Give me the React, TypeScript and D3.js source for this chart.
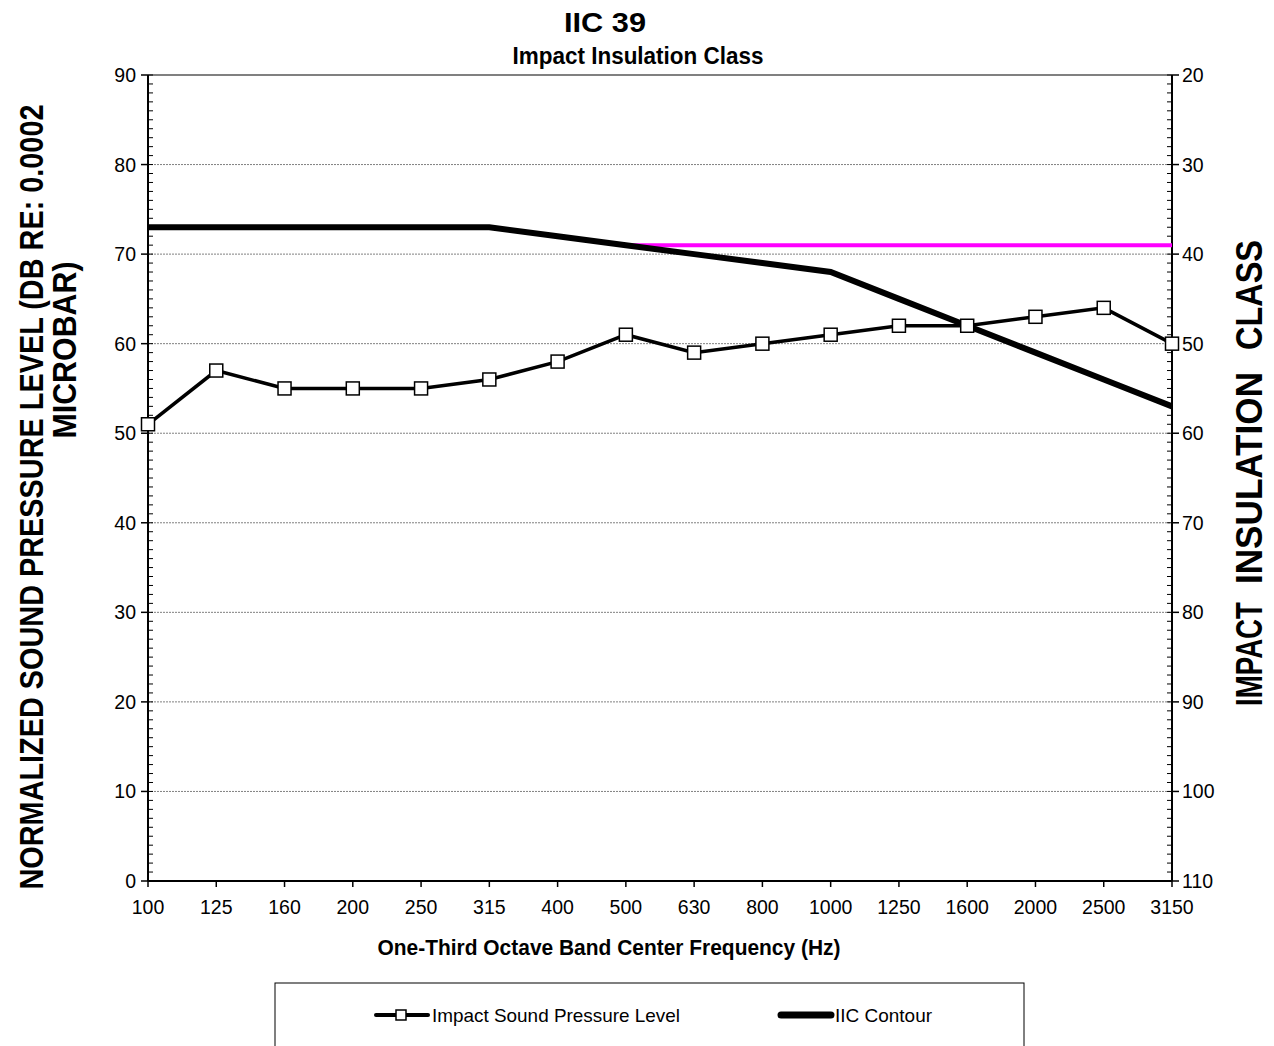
import * as d3 from "d3";

const frequencies = ["100", "125", "160", "200", "250", "315", "400", "500", "630", "800", "1000", "1250", "1600", "2000", "2500", "3150"];
const impactLevels = [51, 57, 55, 55, 55, 56, 58, 61, 59, 60, 61, 62, 62, 63, 64, 60];
const contourLevels = [73, 73, 73, 73, 73, 73, 72, 71, 70, 69, 68, 65, 62, 59, 56, 53];
const iicRating = 39;
const iicRefLevel = 71;
const iicRefStart = "500";
const leftTicks = [0, 10, 20, 30, 40, 50, 60, 70, 80, 90];
const rightTicks = [20, 30, 40, 50, 60, 70, 80, 90, 100, 110];

const W = 1274, H = 1046;
const m = {left: 148, right: 1172, top: 75, bottom: 881};
const font = "'Liberation Sans', Arial, sans-serif";

export default function App() {
    const x = d3.scalePoint<string>().domain(frequencies).range([m.left, m.right]);
    const y = d3.scaleLinear().domain([0, 90]).range([m.bottom, m.top]);
    const yRight = d3.scaleLinear().domain([110, 20]).range([m.bottom, m.top]);

    const line = d3.line<number>()
        .x((_, i) => x(frequencies[i])!)
        .y(d => y(d));

    const minor = d3.range(0, 91);
    const refStart = frequencies.indexOf(iicRefStart);

    // rotated label helper: centre position, baseline x, forced length
    const vtext = (s: string, cx: number, cy: number, len: number, size: number) =>
        <text transform={`translate(${cx},${cy}) rotate(-90)`} textAnchor="middle" fontSize={size}
              fontWeight="bold" textLength={len} lengthAdjust="spacingAndGlyphs">{s}</text>;

    return <svg width={W} height={H} style={{position: "absolute", left: 0, top: 0, fontFamily: font}}>
        {/* gridlines */}
        {leftTicks.filter(t => t > 0).map(t =>
            <line key={t} x1={m.left} x2={m.right} y1={y(t)} y2={y(t)}
                  stroke="#808080" strokeWidth={t === 90 ? 2 : 1}
                  strokeDasharray={t === 90 ? undefined : "2,1"}/>
        )}
        {/* axes */}
        <line x1={m.left} x2={m.left} y1={m.top} y2={m.bottom} stroke="#000" strokeWidth={2}/>
        <line x1={m.right} x2={m.right} y1={m.top} y2={m.bottom} stroke="#000" strokeWidth={2}/>
        <line x1={m.left} x2={m.right} y1={m.bottom} y2={m.bottom} stroke="#000" strokeWidth={2}/>
        {minor.map(t => <g key={t}>
            <line x1={m.left} x2={m.left + 5} y1={y(t)} y2={y(t)} stroke="#000"/>
            <line x1={m.right - 5} x2={m.right} y1={y(t)} y2={y(t)} stroke="#000"/>
        </g>)}
        {leftTicks.map(t => <g key={t}>
            <line x1={m.left - 7} x2={m.left} y1={y(t)} y2={y(t)} stroke="#000" strokeWidth={1.5}/>
            <text x={m.left - 12} y={y(t)} dy="0.36em" textAnchor="end" fontSize={19.5}>{t}</text>
        </g>)}
        {rightTicks.map(t => <g key={t}>
            <line x1={m.right} x2={m.right + 7} y1={yRight(t)} y2={yRight(t)} stroke="#000" strokeWidth={1.5}/>
            <text x={m.right + 10} y={yRight(t)} dy="0.36em" textAnchor="start" fontSize={19.5}>{t}</text>
        </g>)}
        {frequencies.map(f => <g key={f}>
            <line x1={x(f)} x2={x(f)} y1={m.bottom} y2={m.bottom + 6} stroke="#000" strokeWidth={1.5}/>
            <text x={x(f)} y={m.bottom + 33} textAnchor="middle" fontSize={19.5}>{f}</text>
        </g>)}

        {/* IIC reference level */}
        <line x1={x(frequencies[refStart])} x2={x(frequencies[frequencies.length - 1])}
              y1={y(iicRefLevel)} y2={y(iicRefLevel)} stroke="#ff00ff" strokeWidth={4}/>

        {/* series */}
        <path d={line(contourLevels)!} fill="none" stroke="#000" strokeWidth={6}/>
        <path d={line(impactLevels)!} fill="none" stroke="#000" strokeWidth={3.5}/>
        {impactLevels.map((v, i) =>
            <rect key={i} x={x(frequencies[i])! - 6.5} y={y(v) - 6.5} width={13} height={13}
                  fill="#fff" stroke="#000" strokeWidth={1.5}/>
        )}

        {/* titles */}
        <text x={605} y={32} textAnchor="middle" fontSize={28} fontWeight="bold"
              textLength={82} lengthAdjust="spacingAndGlyphs">{`IIC ${iicRating}`}</text>
        <text x={638} y={64} textAnchor="middle" fontSize={24} fontWeight="bold"
              textLength={251} lengthAdjust="spacingAndGlyphs">Impact Insulation Class</text>
        <text x={609} y={955} textAnchor="middle" fontSize={22} fontWeight="bold"
              textLength={463} lengthAdjust="spacingAndGlyphs">One-Third Octave Band Center Frequency (Hz)</text>
        {vtext("NORMALIZED SOUND PRESSURE LEVEL (DB RE: 0.0002", 43, 497, 785, 34)}
        {vtext("MICROBAR)", 76, 350, 177, 34)}
        {vtext("CLASS", 1262, 295, 110, 37)}
        {vtext("INSULATION", 1262, 478, 212, 37)}
        {vtext("IMPACT", 1262, 654, 104, 37)}

        {/* legend */}
        <rect x={275} y={983} width={749} height={80} fill="#fff" stroke="#000" strokeWidth={1}/>
        <line x1={376} x2={428} y1={1015} y2={1015} stroke="#000" strokeWidth={4} strokeLinecap="round"/>
        <rect x={396} y={1010} width={10} height={10} fill="#fff" stroke="#000" strokeWidth={1.5}/>
        <text x={432} y={1015} dy="0.36em" fontSize={19} textLength={248} lengthAdjust="spacingAndGlyphs">Impact Sound Pressure Level</text>
        <line x1={781} x2={831} y1={1015} y2={1015} stroke="#000" strokeWidth={7} strokeLinecap="round"/>
        <text x={835} y={1015} dy="0.36em" fontSize={19} textLength={97} lengthAdjust="spacingAndGlyphs">IIC Contour</text>
    </svg>;
}
